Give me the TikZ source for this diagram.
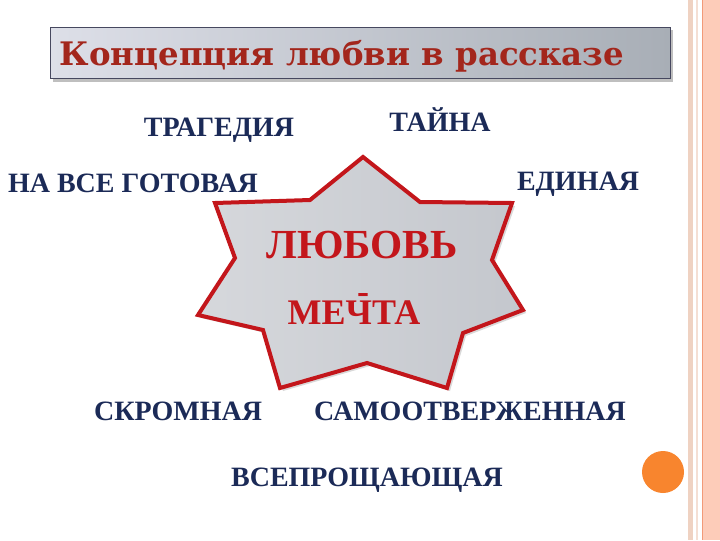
\documentclass[tikz,border=0pt]{standalone}
\usepackage{fontspec}
\setmainfont{Liberation Serif}
\newfontfamily\titlefont{DejaVu Serif}
\definecolor{wordblue}{HTML}{1B2A57}
\definecolor{titlered}{HTML}{A3261C}
\definecolor{starred}{HTML}{C3161B}
\definecolor{stripeorange}{HTML}{F29A78}
\definecolor{stripesalmon}{HTML}{FDCCB9}
\definecolor{stripebeige}{HTML}{EFD2C2}
\definecolor{dotorange}{HTML}{F8852E}

\tikzset{every picture/.style={line width=0.75pt}}
\tikzset{
  word/.style={anchor=base, inner sep=0pt, text=wordblue, font=\bfseries\fontsize{21}{24}\selectfont},
  bigword/.style={anchor=base, inner sep=0pt, text=starred, font=\bfseries\fontsize{31}{36}\selectfont},
}

\begin{document}
\begin{tikzpicture}[x=0.75pt,y=0.75pt,yscale=-1,xscale=1]
	\useasboundingbox (0,0) rectangle (720,540);
	\fill[white] (0,0) rectangle (720,540);

	%Side stripes
	\fill[stripebeige] (688.3,0) rectangle (693.3,540);
	\fill[stripebeige!70] (696,0) rectangle (698,540);
	\fill[stripesalmon] (703,0) rectangle (720,540);
	\draw[stripeorange, line width=1.2pt] (702.3,0) -- (702.3,540);

	%Title box
	\fill[black, opacity=0.25] (53,30) rectangle (673,82);
	\draw[draw={rgb, 255:red, 70; green, 72; blue, 95}, left color={rgb, 255:red, 221; green, 223; blue, 232}, right color={rgb, 255:red, 168; green, 174; blue, 182}] (50,27) rectangle (670,78);
	% Text Node
	\draw (342,65) node (title) [anchor=base, inner sep=0pt, text=titlered, font=\titlefont\bfseries\fontsize{24.3}{28}\selectfont] {Концепция любви в рассказе};

	%Shape: Star
	\fill[black, opacity=0.15] (366,160) -- (423,205) -- (515,206) -- (495,263) -- (526,313) -- (466,336) -- (450,391) -- (370,366) -- (283,391) -- (266,333) -- (201,318) -- (238,261) -- (218,206) -- (313,203) -- cycle;
	\draw[draw=starred, line width=3pt, line join=miter, left color={rgb, 255:red, 214; green, 216; blue, 220}, right color={rgb, 255:red, 196; green, 199; blue, 205}] (363,157) -- (420,202) -- (512,203) -- (492,260) -- (523,310) -- (463,333) -- (447,388) -- (367,363) -- (280,388) -- (263,330) -- (198,315) -- (235,258) -- (215,203) -- (310,200) -- cycle;

	% Text Node
	\draw (362,258) node (love) [bigword] {ЛЮБОВЬ};
	% Text Node
	\draw (354,325) node (dream) [bigword, anchor=south, align=center, font=\bfseries\fontsize{27}{30}\selectfont] {\hspace*{13.5pt}-\\[-14pt]МЕЧТА};

	% Text Node
	\draw (219,136) node (tragedy) [word] {ТРАГЕДИЯ};
	% Text Node
	\draw (440,131) node (mystery) [word] {ТАЙНА};
	% Text Node
	\draw (133,192) node (ready) [word] {НА ВСЕ ГОТОВАЯ};
	% Text Node
	\draw (578,190) node (single) [word] {ЕДИНАЯ};
	% Text Node
	\draw (178,420) node (modest) [word] {СКРОМНАЯ};
	% Text Node
	\draw (470,420) node (selfless) [word] {САМООТВЕРЖЕННАЯ};
	% Text Node
	\draw (367,486) node (forgiving) [word] {ВСЕПРОЩАЮЩАЯ};

	%Shape: Circle
	\fill[dotorange] (663,472) circle (21);

\end{tikzpicture}
\end{document}
